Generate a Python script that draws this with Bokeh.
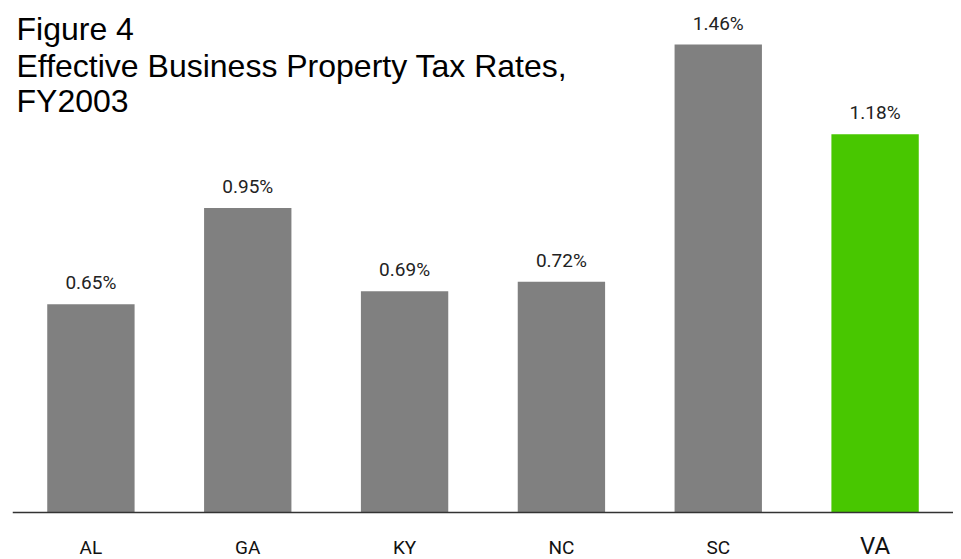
from bokeh.plotting import figure
from bokeh.models import ColumnDataSource, FactorRange, Range1d, LabelSet, Label, Span
from bokeh.core.properties import value
from bokeh.embed import file_html
from bokeh.resources import INLINE

states = ["AL", "GA", "KY", "NC", "SC", "VA"]
rates = [0.65, 0.95, 0.69, 0.72, 1.46, 1.18]
rate_labels = ["0.65%", "0.95%", "0.69%", "0.72%", "1.46%", "1.18%"]
title_lines = ["Figure 4", "Effective Business Property Tax Rates,", "FY2003"]

GRAY = "#808080"
GREEN = "#48C700"
colors = [GREEN if s == "VA" else GRAY for s in states]
cat_sizes = ["24px" if s == "VA" else "19px" for s in states]

NARROW = "Roboto"

src = ColumnDataSource(dict(state=states, rate=rates, lab=rate_labels,
                            color=colors, csize=cat_sizes))

W, H = 953, 559
BASE_PX = 512          # pixel row of the zero line
PX_PER_UNIT = 320.5
Y_START = -(H - BASE_PX) / PX_PER_UNIT
Y_END = BASE_PX / PX_PER_UNIT

p = figure(width=W, height=H, x_range=FactorRange(*states, range_padding=0),
           y_range=Range1d(Y_START, Y_END), output_backend="svg",
           toolbar_location=None, min_border_left=12, min_border_right=0,
           min_border_top=0, min_border_bottom=0)
p.outline_line_color = None
p.background_fill_color = "white"
p.border_fill_color = "white"
p.xgrid.visible = False
p.ygrid.visible = False
p.yaxis.visible = False
p.xaxis.visible = False

p.vbar(x="state", top="rate", bottom=0, width=0.557, source=src, color="color", line_color=None)

p.add_layout(Span(location=0, dimension="width", line_color="#333333", line_width=1.5))

p.add_layout(LabelSet(x="state", y="rate", text="lab", source=src,
                      y_offset=15, text_align="center", text_baseline="alphabetic",
                      text_font=value(NARROW), text_font_size="19px",
                      text_color="#222222"))
p.add_layout(LabelSet(x="state", y=0, text="state", source=src,
                      y_offset=-41, text_align="center", text_baseline="alphabetic",
                      text_font=value(NARROW), text_font_size="csize",
                      text_color="#111111"))

baselines = [28, 65, 100]
for line, b in zip(title_lines, baselines):
    p.add_layout(Label(x=4, y=(BASE_PX - b) / PX_PER_UNIT, x_units="screen", y_units="data",
                       text=line, text_font="Liberation Sans",
                       text_font_size="32px", text_baseline="alphabetic",
                       text_color="black"))

open("out.html", "w").write(file_html(p, INLINE))
